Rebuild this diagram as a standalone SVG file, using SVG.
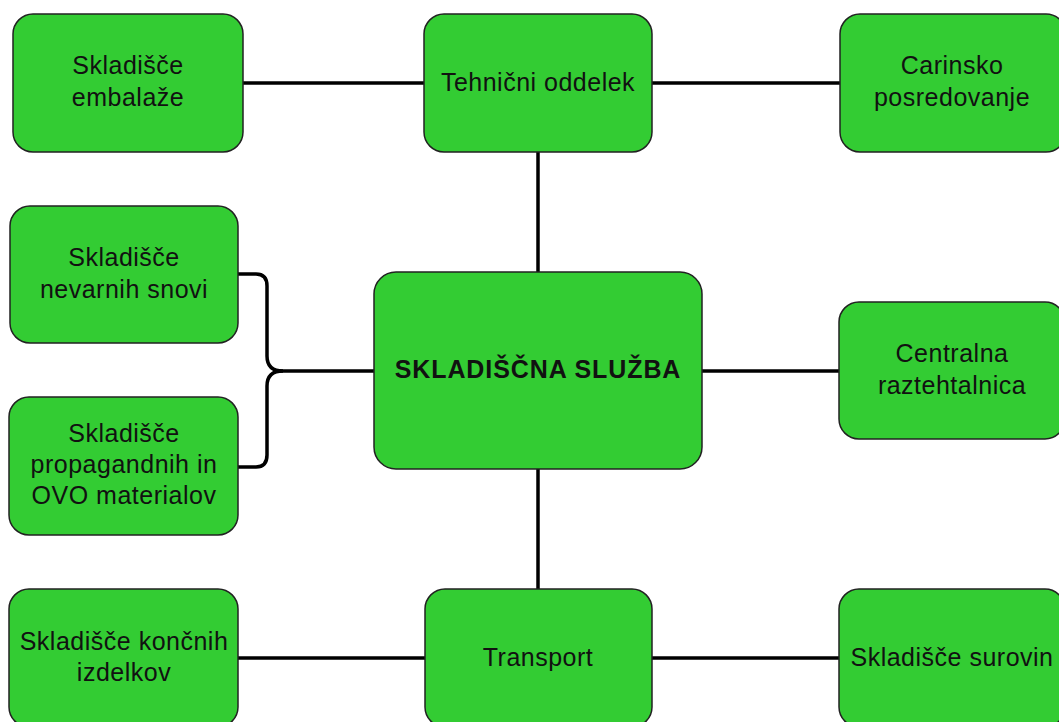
<svg xmlns="http://www.w3.org/2000/svg" width="1059" height="722" viewBox="0 0 1059 722">
<style>
.box{fill:#33cc33;stroke:#222;stroke-width:1.5}
.t{font-family:"Liberation Sans",Arial,sans-serif;font-size:25px;fill:#111;text-anchor:middle;letter-spacing:0.5px}
.b{font-weight:bold;letter-spacing:0.9px}
.c{fill:none;stroke:#000;stroke-width:3.5}
</style>
<rect width="1059" height="722" fill="#fff"/>
<g id="connectors">
<line class="c" x1="243" y1="83" x2="424" y2="83"/>
<line class="c" x1="652" y1="83" x2="840" y2="83"/>
<line class="c" x1="538" y1="152" x2="538" y2="272"/>
<line class="c" x1="538" y1="469" x2="538" y2="589"/>
<line class="c" x1="702" y1="371" x2="839" y2="371"/>
<line class="c" x1="238" y1="658" x2="425" y2="658"/>
<line class="c" x1="652" y1="658" x2="839" y2="658"/>
<path class="c" d="M238,274 H256 Q267,274 267,286 V356 Q267,371 283,371 H374"/>
<path class="c" d="M238,467 H256 Q267,467 267,455 V386 Q267,371 283,371"/>
</g>
<g id="n-embalaze"><rect class="box" x="13" y="14" width="230" height="138" rx="20"/>
<text class="t" x="128" y="74">Skladišče</text><text class="t" x="128" y="106">embalaže</text></g>
<g id="n-tehnicni"><rect class="box" x="424" y="14" width="228" height="138" rx="20"/>
<text class="t" x="538" y="91">Tehnični oddelek</text></g>
<g id="n-carinsko"><rect class="box" x="840" y="14" width="226" height="138" rx="20"/>
<text class="t" x="952" y="74">Carinsko</text><text class="t" x="952" y="106">posredovanje</text></g>
<g id="n-nevarnih"><rect class="box" x="10" y="206" width="228" height="137" rx="20"/>
<text class="t" x="124" y="266">Skladišče</text><text class="t" x="124" y="298">nevarnih snovi</text></g>
<g id="n-propagandnih"><rect class="box" x="9" y="397" width="229" height="138" rx="20"/>
<text class="t" x="124" y="442">Skladišče</text><text class="t" x="124" y="473">propagandnih in</text><text class="t" x="124" y="504">OVO materialov</text></g>
<g id="n-center"><rect class="box" x="374" y="272" width="328" height="197" rx="22"/>
<text class="t b" x="538" y="378">SKLADIŠČNA SLUŽBA</text></g>
<g id="n-centralna"><rect class="box" x="839" y="302" width="226" height="137" rx="20"/>
<text class="t" x="952" y="362">Centralna</text><text class="t" x="952" y="394">raztehtalnica</text></g>
<g id="n-koncnih"><rect class="box" x="9" y="589" width="229" height="138" rx="20"/>
<text class="t" x="124" y="650">Skladišče končnih</text><text class="t" x="124" y="681">izdelkov</text></g>
<g id="n-transport"><rect class="box" x="425" y="589" width="227" height="138" rx="20"/>
<text class="t" x="538" y="666">Transport</text></g>
<g id="n-surovin"><rect class="box" x="839" y="589" width="226" height="138" rx="20"/>
<text class="t" x="952" y="666">Skladišče surovin</text></g>
</svg>
